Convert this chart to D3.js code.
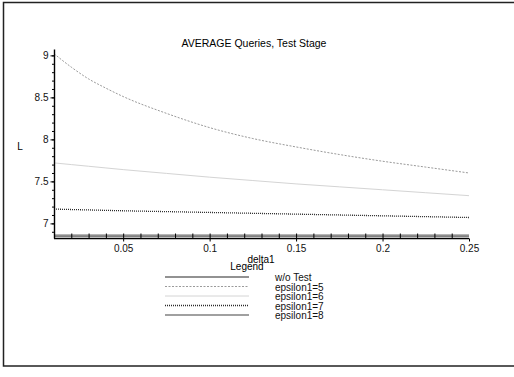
<!DOCTYPE html>
<html>
<head>
<meta charset="utf-8">
<script src="https://cdn.jsdelivr.net/npm/d3@7/dist/d3.min.js"></script>
<style>
  html, body { margin: 0; padding: 0; background: #fff; }
  svg { display: block; font-family: "Liberation Sans", Arial, Helvetica, sans-serif; }
</style>
</head>
<body>
<svg id="chart" width="514" height="377"></svg>
<script>
// delta1 sample points
const delta1 = [0.01, 0.02, 0.03, 0.04, 0.05, 0.075, 0.1, 0.125, 0.15, 0.175, 0.2, 0.225, 0.25];

// average queries L per configuration
const woTest   = [6.86, 6.86, 6.86, 6.86, 6.86, 6.86, 6.86, 6.86, 6.86, 6.86, 6.86, 6.86, 6.86];
const epsilon5 = [9.02, 8.86, 8.72, 8.61, 8.51, 8.31, 8.14, 8.01, 7.91, 7.82, 7.74, 7.67, 7.60];
const epsilon6 = [7.72, 7.70, 7.68, 7.66, 7.64, 7.595, 7.55, 7.51, 7.47, 7.435, 7.40, 7.365, 7.33];
const epsilon7 = [7.17, 7.165, 7.16, 7.155, 7.15, 7.14, 7.13, 7.12, 7.11, 7.10, 7.09, 7.08, 7.07];
const epsilon8 = [6.845, 6.845, 6.845, 6.845, 6.845, 6.845, 6.845, 6.845, 6.845, 6.845, 6.845, 6.845, 6.845];

const seriesNames = ["w/o Test", "epsilon1=5", "epsilon1=6", "epsilon1=7", "epsilon1=8"];
const seriesValues = [woTest, epsilon5, epsilon6, epsilon7, epsilon8];

const xTickValues = [0.05, 0.1, 0.15, 0.2, 0.25];
const xTickLabels = ["0.05", "0.1", "0.15", "0.2", "0.25"];
const yTickValues = [7, 7.5, 8, 8.5, 9];
const yTickLabels = ["7", "7.5", "8", "8.5", "9"];

// line styles per series
const styles = [
  { stroke: "#6e6e6e", width: 1.3, dash: null },
  { stroke: "#9a9a9a", width: 1,   dash: "2,1.5" },
  { stroke: "#d4d4d4", width: 1,   dash: null },
  { stroke: "#2a2a2a", width: 1.3, dash: "1,1" },
  { stroke: "#808080", width: 1.3, dash: null }
];

const svg = d3.select("#chart");

// page frame
svg.append("rect")
  .attr("x", 3.5).attr("y", 2.5).attr("width", 520).attr("height", 363.5)
  .attr("fill", "none").attr("stroke", "#222").attr("stroke-width", 1.5);

const x = d3.scaleLinear().domain([0.01, 0.25]).range([54, 469]);
const y = d3.scaleLinear().domain([6.82, 9.07]).range([238.5, 49.5]);

// title
svg.append("text")
  .attr("x", 254).attr("y", 47)
  .attr("text-anchor", "middle")
  .attr("font-size", 10.5)
  .text("AVERAGE Queries, Test Stage");

// curves
const line = d3.line()
  .x((d, i) => x(delta1[i]))
  .y(d => y(d))
  .curve(d3.curveMonotoneX);

seriesValues.forEach((vals, k) => {
  const s = styles[k];
  svg.append("path")
    .datum(vals)
    .attr("fill", "none")
    .attr("stroke", s.stroke)
    .attr("stroke-width", s.width)
    .attr("stroke-dasharray", s.dash)
    .attr("d", line);
});

// y axis: major ticks with labels, minor ticks every 0.1
const yMinor = d3.range(69, 91).map(v => v / 10);
svg.append("g")
  .attr("transform", "translate(54.5,0)")
  .call(d3.axisLeft(y).tickValues(yMinor).tickSize(2.5).tickFormat(""))
  .call(g => g.select(".domain").remove());
const yAxis = svg.append("g")
  .attr("transform", "translate(54.5,0)")
  .call(d3.axisLeft(y).tickValues(yTickValues).tickSize(4).tickPadding(2)
        .tickFormat((d, i) => yTickLabels[i]));
yAxis.select(".domain").attr("d", `M0,${y.range()[1]}V${y.range()[0]}`).attr("stroke-width", 1.4);
yAxis.selectAll("text").attr("font-size", 10).attr("fill", "#111");

// x axis: major ticks below with labels, minor ticks pointing up every 0.01
const xMinor = d3.range(2, 25).map(v => v / 100);
svg.append("g")
  .attr("transform", "translate(0,238.5)")
  .call(d3.axisBottom(x).tickValues(xMinor).tickSize(-5).tickFormat(""))
  .call(g => g.select(".domain").remove());
const xAxis = svg.append("g")
  .attr("transform", "translate(0,238.5)")
  .call(d3.axisBottom(x).tickValues(xTickValues).tickSize(3).tickPadding(3)
        .tickFormat((d, i) => xTickLabels[i]));
xAxis.select(".domain").attr("d", `M${x.range()[0]},0H${x.range()[1]}`).attr("stroke-width", 1.4);
xAxis.selectAll("text").attr("font-size", 10).attr("fill", "#111");

// axis titles
svg.append("text").attr("x", 20).attr("y", 150)
  .attr("text-anchor", "middle").attr("font-size", 10).text("L");
svg.append("text").attr("x", 261).attr("y", 263)
  .attr("text-anchor", "middle").attr("font-size", 10).text("delta1");

// legend
svg.append("text").attr("x", 247).attr("y", 270)
  .attr("text-anchor", "middle").attr("font-size", 10).text("Legend");

const legendY = d3.scalePoint().domain(seriesNames).range([277, 315]);
const legend = svg.append("g");
seriesNames.forEach((name, k) => {
  const s = styles[k];
  const ly = legendY(name);
  legend.append("line")
    .attr("x1", 165).attr("x2", 249).attr("y1", ly).attr("y2", ly)
    .attr("stroke", s.stroke).attr("stroke-width", s.width)
    .attr("stroke-dasharray", s.dash);
  legend.append("text")
    .attr("x", 275).attr("y", ly + 4)
    .attr("font-size", 10).attr("fill", "#111")
    .text(name);
});
</script>
</body>
</html>
